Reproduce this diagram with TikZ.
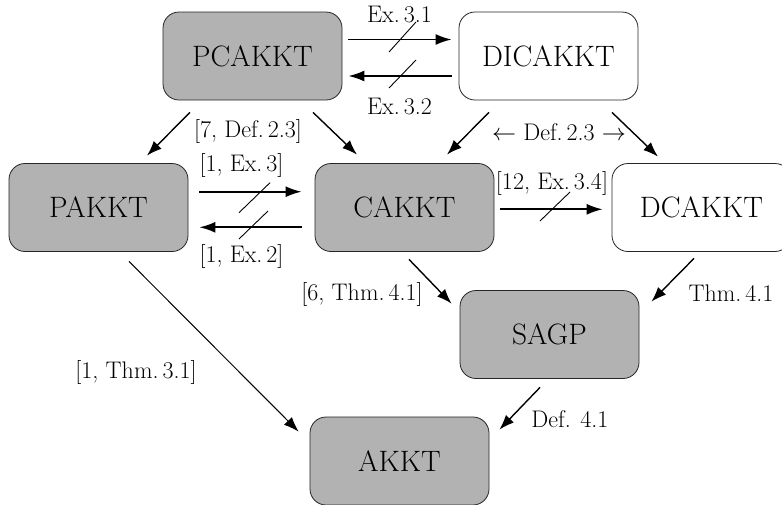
\documentclass[tikz,border=0pt]{standalone}
\usepackage{fix-cm}
\usepackage{fontspec}
\usetikzlibrary{arrows.meta,calc}
\begin{document}
\begin{tikzpicture}[x=1pt,y=-1pt,
  box/.style={draw=black!85, line width=0.8pt, rounded corners=16pt,
    minimum width=179pt, minimum height=88pt, inner sep=0pt,
    font=\fontsize{29.5}{33}\selectfont},
  gbox/.style={box, fill=black!30},
  wbox/.style={box, fill=white},
  lab/.style={font=\fontsize{24}{28}\selectfont, inner sep=0pt},
  harr/.style={line width=1.8pt, -{Latex[length=16pt,width=11pt]}},
  darr/.style={line width=1.4pt, -{Latex[length=15pt,width=11pt]}},
  larr/.style={line width=1pt, -{Latex[length=15pt,width=11pt]}},
  slashln/.style={line width=0.9pt}]
\useasboundingbox (0,0) rectangle (782,504);

% boxes
\node[gbox] (PC) at (252.5,56) {PCAKKT};
\node[wbox] (DI) at (548.5,56) {DICAKKT};
\node[gbox] (PA) at (98.5,207.5) {PAKKT};
\node[gbox] (CA) at (404.5,207.5) {CAKKT};
\node[wbox] (DC) at (701.5,207.5) {DCAKKT};
\node[gbox] (SA) at (549.5,334.5) {SAGP};
\node[gbox] (AK) at (399.5,461) {AKKT};

% horizontal arrows with negation slashes
\draw[harr] ($(PC.east)+(6,-16.5)$) coordinate (a1s) -- ($(DI.west)+(-7,-16.5)$) coordinate (a1e);
\draw[slashln] ($(a1s)!0.5!(a1e)+(-11,12.5)$) -- ($(a1s)!0.5!(a1e)+(16,-17.5)$);
\draw[harr] ($(DI.west)+(-7,20)$) coordinate (a2s) -- ($(PC.east)+(6,20)$) coordinate (a2e);
\draw[slashln] ($(a2s)!0.5!(a2e)+(-11,12)$) -- ($(a2s)!0.5!(a2e)+(16,-16)$);

\draw[harr] ($(PA.east)+(11,-15.8)$) coordinate (a7s) -- ($(CA.west)+(-13,-15.8)$) coordinate (a7e);
\draw[slashln] ($(a7s)!0.5!(a7e)+(-11.5,21)$) -- ($(a7s)!0.5!(a7e)+(19.5,-9)$);
\draw[harr] ($(CA.west)+(-13,19.8)$) coordinate (a8s) -- ($(PA.east)+(11,19.8)$) coordinate (a8e);
\draw[slashln] ($(a8s)!0.5!(a8e)+(-11.5,11.7)$) -- ($(a8s)!0.5!(a8e)+(17.5,-16.3)$);

\draw[harr] ($(CA.east)+(6,1.8)$) coordinate (a9s) -- ($(DC.west)+(-9,1.8)$) coordinate (a9e);
\draw[slashln] ($(a9s)!0.5!(a9e)+(-11.5,11.7)$) -- ($(a9s)!0.5!(a9e)+(18.5,-17.3)$);

% diagonal arrows
\draw[darr] ($(PC.south)+(-62.5,12)$) -- ($(PA.north)+(48.5,-7.5)$);
\draw[darr] ($(PC.south)+(60.5,12)$) -- ($(CA.north)+(-47.5,-8.5)$);
\draw[darr] ($(DI.south)+(-59.5,12)$) -- ($(CA.north)+(42.5,-8.5)$);
\draw[darr] ($(DI.south)+(63.5,12)$) -- ($(DC.north)+(-43.5,-6.5)$);
\draw[darr] ($(CA.south)+(4.5,7.5)$) -- ($(SA.north west)+(-8,13.5)$);
\draw[darr] ($(DC.south)+(-7.5,6.5)$) -- ($(SA.north east)+(12,11.5)$);
\draw[larr] ($(PA.south)+(30.5,9.5)$) -- ($(AK.north west)+(-11,15)$);
\draw[darr] ($(SA.south)+(-9.5,8.5)$) -- ($(AK.north east)+(10,13)$);

% labels
\node[lab] (l1) at (399.5,15) {Ex.\,3.1};
\node[lab] (l2) at (399.5,106.5) {Ex.\,3.2};
\node[lab] (l3) at (248,131) {[7, Def.\,2.3]};
\node[lab] (l4) at (559,132) {$\leftarrow$ Def.\,2.3 $\rightarrow$};
\node[lab] (l5) at (241.5,165) {[1, Ex.\,3]};
\node[lab] (l6) at (241.5,256) {[1, Ex.\,2]};
\node[lab] (l7) at (552,183) {[12, Ex.\,3.4]};
\node[lab] (l8) at (362,294) {[6, Thm.\,4.1]};
\node[lab] (l9) at (731,293) {Thm.\,4.1};
\node[lab] (l10) at (136,372) {[1, Thm.\,3.1]};
\node[lab] (l11) at (570,419) {Def. 4.1};
\end{tikzpicture}
\end{document}
